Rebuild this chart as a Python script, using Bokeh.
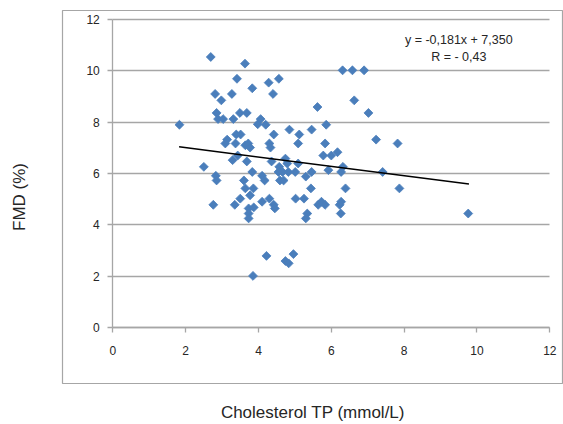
import numpy as np
from bokeh.plotting import figure
from bokeh.models import Label, Range1d, ColumnDataSource, LinearAxis, FixedTicker
from bokeh.embed import file_html
from bokeh.resources import INLINE

# Cholesterol TP (mmol/L) vs FMD (%)
chol = [1.83, 2.69, 2.50, 2.81, 2.98, 2.85, 2.89, 3.03, 2.83, 2.85, 2.76, 3.27, 3.41, 3.63,
        3.31, 3.49, 3.68, 3.14, 3.09, 3.39, 3.51, 3.37, 3.64, 3.72, 3.77, 3.43, 3.29, 3.68,
        3.83, 3.60, 3.64, 3.50, 3.35, 3.77, 3.86, 3.83, 3.73, 3.73, 3.73, 3.87, 3.85, 3.98,
        4.06, 4.20, 4.28, 4.40, 4.56, 4.30, 4.33, 4.42, 4.36, 4.10, 4.17, 4.10, 4.30, 4.42,
        4.45, 4.22, 4.57, 4.55, 4.59, 4.69, 4.74, 4.79, 4.66, 4.82, 4.85, 5.01, 5.09, 5.12,
        5.09, 4.74, 4.83, 4.96, 5.02, 5.25, 5.30, 5.34, 5.30, 5.44, 5.46, 5.46, 5.62, 5.64,
        5.73, 5.83, 5.78, 5.83, 5.86, 5.92, 6.00, 6.17, 6.23, 6.27, 6.26, 6.27, 6.32, 6.39,
        6.31, 6.58, 6.90, 6.63, 7.02, 7.23, 7.41, 7.82, 7.87, 9.76]
fmd = [7.90, 10.54, 6.26, 9.10, 8.85, 8.36, 8.12, 8.12, 5.91, 5.73, 4.78, 9.10, 9.69, 10.28,
       8.12, 8.36, 8.36, 7.32, 7.17, 7.52, 7.52, 7.17, 7.10, 7.17, 7.01, 6.70, 6.52, 6.47,
       9.32, 5.73, 5.42, 5.02, 4.78, 5.15, 5.42, 6.06, 4.64, 4.44, 4.25, 4.68, 2.01, 7.92,
       8.12, 7.90, 9.54, 9.10, 9.69, 7.17, 7.01, 7.52, 6.47, 5.91, 5.73, 4.90, 5.02, 4.78,
       4.64, 2.79, 6.26, 6.06, 5.73, 5.73, 6.58, 6.39, 6.06, 6.06, 7.71, 6.06, 6.39, 7.52,
       7.17, 2.59, 2.50, 2.86, 5.02, 5.02, 5.88, 4.44, 4.25, 5.42, 6.06, 7.71, 8.59, 4.78,
       4.90, 4.78, 6.70, 7.17, 7.90, 6.13, 6.70, 6.83, 4.78, 4.90, 4.44, 6.06, 6.26, 5.42,
       10.02, 10.02, 10.02, 8.85, 8.36, 7.32, 6.06, 7.17, 5.42, 4.44]

trend_x = [1.82, 9.78]
trend_y = [7.04, 5.59]

x_ticks = [0, 2, 4, 6, 8, 10, 12]
y_ticks = [0, 2, 4, 6, 8, 10, 12]
axis_bounds = (0, 12)

x_title = "Cholesterol TP (mmol/L)"
y_title = "FMD (%)"
eq_text = "y = -0,181x + 7,350"
r_text = "R = - 0,43"

GRAY = "#a6a6a6"
TXT = "#262626"

# The frame is the chart-area box (its right side runs off the picture);
# the value axes sit at x=0 / y=0 inside it.
p = figure(width=563, height=424, output_backend="svg", toolbar_location=None,
           x_range=Range1d(-1.381, 12.376), y_range=Range1d(-2.182, 12.351),
           min_border_left=62, min_border_right=0, min_border_top=10,
           min_border_bottom=41)
p.outline_line_color = GRAY
p.outline_line_width = 1.2
p.background_fill_color = "white"
p.border_fill_color = "white"

p.xgrid.grid_line_color = None
p.ygrid.grid_line_color = GRAY
p.ygrid.grid_line_width = 1.3
p.ygrid.ticker = y_ticks
p.ygrid.bounds = (-0.5, 12.5)
p.ygrid.cross_bounds = axis_bounds

for ax in (p.xaxis[0], p.yaxis[0]):
    ax.fixed_location = 0
    ax.bounds = axis_bounds
    ax.axis_line_color = GRAY
    ax.axis_line_width = 1.3
    ax.major_tick_line_color = GRAY
    ax.major_tick_line_width = 1.3
    ax.major_tick_out = 5
    ax.major_tick_in = 0
    ax.minor_tick_line_color = None
    ax.major_label_text_font = "Liberation Sans"
    ax.major_label_text_font_size = "12px"
    ax.major_label_text_color = TXT

p.xaxis.ticker = x_ticks
p.yaxis.ticker = y_ticks
p.xaxis.major_label_standoff = 14
p.yaxis.major_label_standoff = 8

# title-only axes outside the chart-area box
for side, title, standoff in (("below", x_title, 19), ("left", y_title, 34)):
    t_ax = LinearAxis(ticker=FixedTicker(ticks=[]), axis_label=title,
                      axis_line_color=None, major_tick_line_color=None,
                      minor_tick_line_color=None, major_tick_out=0, major_tick_in=0,
                      minor_tick_out=0, major_label_standoff=0,
                      axis_label_standoff=standoff,
                      axis_label_text_font="Liberation Sans",
                      axis_label_text_font_size="17px",
                      axis_label_text_font_style="normal",
                      axis_label_text_color=TXT)
    p.add_layout(t_ax, side)

src = ColumnDataSource(dict(x=chol, y=fmd))
p.scatter("x", "y", source=src, marker="square", angle=np.pi / 4, size=6.3,
          fill_color="#4a7ebb", line_color="#4a7ebb", line_width=0.8)

p.line(trend_x, trend_y, line_color="black", line_width=1.5)

p.add_layout(Label(x=9.5, y=11.2, text=eq_text, text_align="center",
                   text_baseline="middle", text_font="Liberation Sans",
                   text_font_size="12.5px", text_color=TXT))
p.add_layout(Label(x=9.5, y=10.52, text=r_text, text_align="center",
                   text_baseline="middle", text_font="Liberation Sans",
                   text_font_size="12.5px", text_color=TXT))

open("out.html", "w").write(file_html(p, INLINE))
